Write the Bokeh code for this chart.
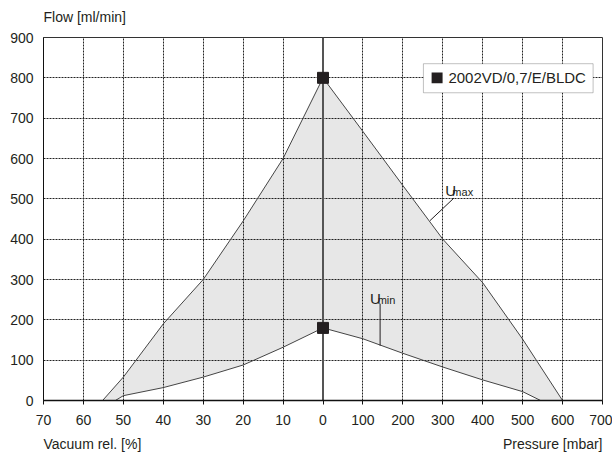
from bokeh.plotting import figure
from bokeh.models import FixedTicker, Label, BoxAnnotation, Range1d
from bokeh.embed import file_html
from bokeh.resources import INLINE

# ---- data ----
vac_umax = [55.2, 50, 40, 30, 20, 10, 5, 0]          # vacuum rel. [%]
flow_umax_vac = [0, 58, 190, 300, 445, 600, 700, 800]
pres_umax = [100, 200, 300, 400, 500, 600]            # pressure [mbar]
flow_umax_pres = [667, 533, 400, 292, 152, 0]

vac_umin = [52, 50, 40, 30, 20, 10, 0]
flow_umin_vac = [0, 12, 32, 58, 88, 132, 180]
pres_umin = [100, 200, 300, 400, 500, 545]
flow_umin_pres = [153, 117, 83, 51, 22, 0]

marker_flow = [800, 180]
series_name = "2002VD/0,7/E/BLDC"

vac_ticks = [70, 60, 50, 40, 30, 20, 10]
pres_ticks = [0, 100, 200, 300, 400, 500, 600, 700]
y_ticks = [0, 100, 200, 300, 400, 500, 600, 700, 800, 900]

# combined axis: vacuum v -> -v/10, pressure p -> p/100
def vx(v):
    return -v / 10.0

def px(pv):
    return pv / 100.0

umax_x = [vx(v) for v in vac_umax] + [px(v) for v in pres_umax]
umax_y = flow_umax_vac + flow_umax_pres
umin_x = [vx(v) for v in vac_umin] + [px(v) for v in pres_umin]
umin_y = flow_umin_vac + flow_umin_pres

FONT = "Liberation Sans"
TXT = "#231f20"

p = figure(width=612, height=453, x_range=Range1d(-7, 7), y_range=Range1d(0, 900),
           output_backend="svg", toolbar_location=None,
           min_border_left=43, min_border_right=10, min_border_top=37, min_border_bottom=53)
p.background_fill_color = "white"
p.border_fill_color = "white"
p.outline_line_color = "#333333"
p.outline_line_width = 1

# axes
tick_vals = [vx(v) for v in vac_ticks] + [px(v) for v in pres_ticks]
tick_vals = [int(round(t)) for t in tick_vals]
labels = [str(v) for v in vac_ticks] + [str(v) for v in pres_ticks]
p.xaxis.ticker = FixedTicker(ticks=tick_vals)
p.xaxis.major_label_overrides = {t: l for t, l in zip(tick_vals, labels)}
p.yaxis.ticker = FixedTicker(ticks=y_ticks)
for ax in (p.xaxis[0], p.yaxis[0]):
    ax.major_label_text_font = FONT
    ax.major_label_text_font_size = "14px"
    ax.major_label_text_color = TXT
    ax.minor_tick_line_color = None
    ax.major_tick_in = 0
    ax.axis_line_color = "#111111"
    ax.major_tick_line_color = "#111111"
p.xaxis.major_tick_out = 4
p.xaxis.axis_line_width = 1.5
p.xaxis.major_label_standoff = 10
p.yaxis.major_tick_out = 0
p.yaxis.major_label_standoff = 10

for g in (p.xgrid[0], p.ygrid[0]):
    g.grid_line_color = "#222222"
    g.grid_line_dash = "2 1"
    g.grid_line_width = 1

# shaded operating range
poly_x = umax_x + umin_x[::-1]
poly_y = umax_y + umin_y[::-1]
p.patch(poly_x, poly_y, fill_color="#000000", fill_alpha=0.095, line_color=None)

p.line(umax_x, umax_y, line_color="#444444", line_width=1)
p.line(umin_x, umin_y, line_color="#444444", line_width=1)

# zero divider line
p.segment(x0=[0], y0=[0], x1=[0], y1=[900], line_color="#555555", line_width=2)

# markers
p.scatter([0, 0], marker_flow, marker="square", size=11, fill_color=TXT, line_color=TXT)

# curve labels
p.add_layout(Label(x=3.06, y=521, text="U", text_font=FONT, text_font_size="15px",
                   text_color=TXT, text_baseline="alphabetic"))
p.add_layout(Label(x=3.24, y=518, text="max", text_font=FONT, text_font_size="11px",
                   text_color=TXT, text_baseline="alphabetic"))
p.segment(x0=[3.28], y0=[502], x1=[2.68], y1=[446], line_color=TXT, line_width=1)

p.add_layout(Label(x=1.18, y=252, text="U", text_font=FONT, text_font_size="15px",
                   text_color=TXT, text_baseline="alphabetic"))
p.add_layout(Label(x=1.37, y=249, text="min", text_font=FONT, text_font_size="11px",
                   text_color=TXT, text_baseline="alphabetic"))
p.segment(x0=[1.43], y0=[240], x1=[1.43], y1=[136], line_color=TXT, line_width=1)

# legend (manual)
p.add_layout(BoxAnnotation(left=2.515, right=6.765, bottom=763, top=835,
                           fill_color="white", fill_alpha=1,
                           line_color="#333333", line_width=1))
p.add_layout(BoxAnnotation(left=2.72, right=2.995, bottom=786.5, top=813.5,
                           fill_color=TXT, fill_alpha=1, line_color=None))
p.add_layout(Label(x=3.14, y=800, text=series_name, text_font=FONT, text_font_size="15px",
                   text_color=TXT, text_baseline="middle"))

# captions placed in side panels (not clipped by the frame)
p.add_layout(Label(x=0, y=21, x_units="screen", y_units="screen", text="Flow [ml/min]",
                   text_font=FONT, text_font_size="14px",
                   text_color=TXT, text_baseline="alphabetic"), "above")
p.add_layout(Label(x=559, y=-422, x_units="screen", y_units="screen", text="Pressure [mbar]",
                   text_font=FONT, text_font_size="14px", text_align="right",
                   text_color=TXT, text_baseline="alphabetic"), "above")
p.add_layout(Label(x=0, y=0, x_units="screen", y_units="screen", text="Vacuum rel. [%]",
                   text_font=FONT, text_font_size="14px",
                   text_color=TXT, text_baseline="alphabetic"), "below")

open("out.html", "w").write(file_html(p, INLINE))
